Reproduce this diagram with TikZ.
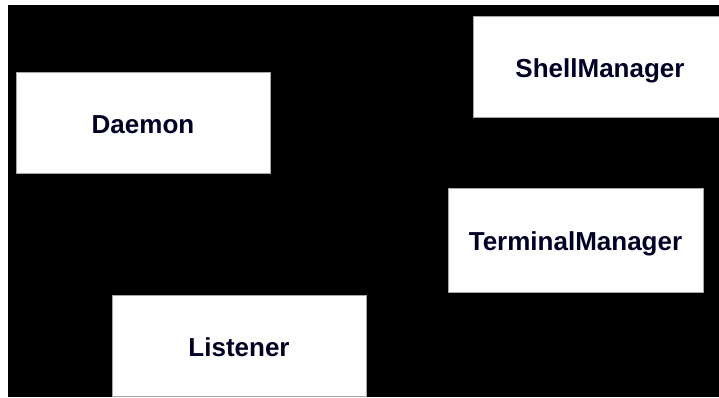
\documentclass[tikz,border=0pt]{standalone}
\usepackage{fontspec}
\setmainfont{Liberation Sans}
\begin{document}
\begin{tikzpicture}[x=1pt,y=-1pt,
  box/.style={draw=gray!70,line width=0.9pt,fill=white,rectangle,
    minimum width=254pt,minimum height=101pt,inner sep=0pt,
    text height=21.6pt,text depth=0pt,
    font=\fontsize{26}{30}\selectfont\bfseries,text=black!85!blue}]
\useasboundingbox (0,0) rectangle (719,397);
\clip (0,0) rectangle (719,397);
\fill[white] (0,0) rectangle (719,397);
\fill[black] (8,5) rectangle (719,397);
\node[box] (daemon) at (143,122.5) {Daemon};
\node[box] (listener) at (239,346) {Listener};
\node[box] (shell) at (600,66.5) {ShellManager};
\node[box,minimum width=255pt,minimum height=104pt] (terminal) at (575.5,240) {TerminalManager};
\end{tikzpicture}
\end{document}
